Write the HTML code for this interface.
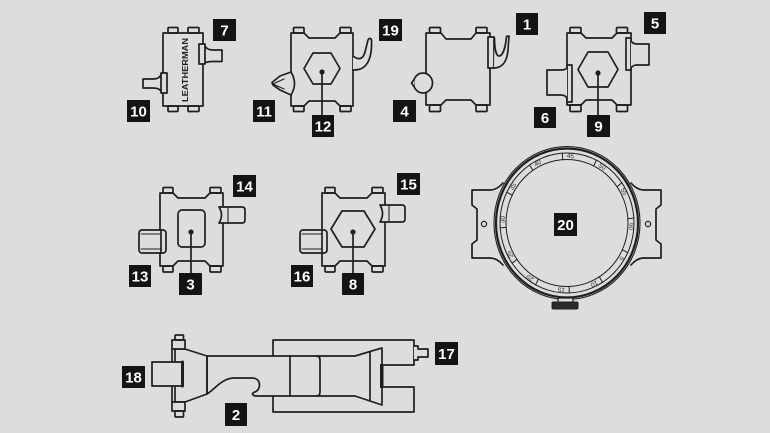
<!DOCTYPE html>
<html><head><meta charset="utf-8"><style>
html,body{margin:0;padding:0;background:#dddddd;}
svg{display:block;}
</style></head><body>
<svg width="770" height="433" viewBox="0 0 770 433" xmlns="http://www.w3.org/2000/svg">
<rect width="770" height="433" fill="#dddddd"/>
<g fill="none" stroke="#1f1f1f" stroke-width="1.7" stroke-linejoin="round" stroke-linecap="round">

<!-- Leatherman piece (7,10) -->
<rect x="163" y="33" width="40" height="73"/>
<rect x="168" y="27.5" width="10" height="5.5" rx="1"/>
<rect x="188" y="27.5" width="11" height="5.5" rx="1"/>
<rect x="168" y="106" width="10" height="5.5" rx="1"/>
<rect x="188" y="106" width="11" height="5.5" rx="1"/>
<rect x="199" y="44" width="6" height="20" fill="#dddddd"/>
<path d="M205,46 Q207,50 213,50 H222 V61.5 H213 Q207,61.5 205,63"/>
<rect x="161" y="73" width="6" height="20" fill="#dddddd"/>
<path d="M161,75 Q159,79 153,79 H143 V88 H153 Q159,88 161,91"/>

<!-- Piece 11/12/19 -->
<path d="M291,33 H304 L309,38 H335 L340,33 H353 V106 H340 L335,101 H309 L304,106 H291 Z"/>
<rect x="293.5" y="27.5" width="10.5" height="5.5" rx="1"/>
<rect x="340" y="27.5" width="11" height="5.5" rx="1"/>
<rect x="293.5" y="106" width="10.5" height="5.5" rx="1"/>
<rect x="340" y="106" width="11" height="5.5" rx="1"/>
<polygon points="304,68.5 313,53 331,53 340,68.5 331,84 313,84"/>
<line x1="322" y1="72" x2="322" y2="115"/>
<circle cx="322" cy="72" r="2.6" fill="#1f1f1f" stroke="none"/>
<path d="M291,72 L280,76 L272,82.5 L273,85 L280,90 L291,95 Q298,83.5 291,72 Z" fill="#dddddd"/>
<path d="M274,83.5 L284,79 M274,84.5 L284,89" stroke-width="1.1"/>
<path d="M353,56 C358,60 363,60 365,52 L368,40 C369,38 371,38 371.5,40 C372,52 370,62 364,67 C360,70 356,70 353,70" fill="#dddddd"/>

<!-- Piece 1/4 -->
<path d="M426,33 H441 L446,39 H471 L476,33 H490 V105 H476 L471,100 H446 L441,105 H426 Z"/>
<rect x="429.5" y="27.5" width="11" height="5.5" rx="1"/>
<rect x="476" y="27.5" width="11" height="5.5" rx="1"/>
<rect x="429.5" y="105" width="11" height="6.5" rx="1"/>
<rect x="476" y="105" width="11" height="6.5" rx="1"/>
<rect x="488" y="37" width="6" height="31" fill="#dddddd"/>
<path d="M494,68 C502,68 507,62 508,50 L509,36 L506.5,36.5 C505.5,47 503,56 499,56 C496,56 494.5,48 494.5,38" fill="#dddddd"/>
<ellipse cx="423" cy="83" rx="9.5" ry="10" fill="#dddddd"/>
<path d="M414,79.5 L411.5,83 L414,86.5" fill="#dddddd"/>

<!-- Piece 5/6/9 -->
<path d="M567,33 H581 L586,38 H612 L617,33 H631 V105 H617 L612,100 H586 L581,105 H567 Z"/>
<rect x="570" y="27.5" width="11" height="5.5" rx="1"/>
<rect x="616.5" y="27.5" width="11" height="5.5" rx="1"/>
<rect x="570" y="105" width="11" height="6.5" rx="1"/>
<rect x="616.5" y="105" width="11" height="6.5" rx="1"/>
<polygon points="578,69.5 588,52 608,52 618,69.5 608,87 588,87"/>
<line x1="598" y1="73" x2="598" y2="115"/>
<circle cx="598" cy="73" r="2.6" fill="#1f1f1f" stroke="none"/>
<rect x="626" y="38" width="5" height="32" fill="#dddddd"/>
<path d="M631,41 Q633,44 637,44 H649 V65 H637 Q633,65 631,68" fill="#dddddd"/>
<rect x="567" y="65" width="5" height="37" fill="#dddddd"/>
<path d="M567,68 Q565,70 561,70 H547 V95 H561 Q565,95 567,98" fill="#dddddd"/>

<!-- Piece 3 (13,14) -->
<path d="M160,193 H173 L178,198 H205 L210,193 H223 V266 H210 L205,261 H178 L173,266 H160 Z"/>
<rect x="163" y="187.5" width="10" height="5.5" rx="1"/>
<rect x="210" y="187.5" width="11" height="5.5" rx="1"/>
<rect x="163" y="266" width="10" height="6" rx="1"/>
<rect x="210" y="266" width="11" height="6" rx="1"/>
<rect x="178" y="210" width="27" height="37" rx="4"/>
<line x1="191" y1="232" x2="191" y2="273"/>
<circle cx="191" cy="232" r="2.6" fill="#1f1f1f" stroke="none"/>
<path d="M219,207 H242 Q245,207 245,210 V220 Q245,223 242,223 H219 Q224,215 219,207 Z" fill="#dddddd"/>
<line x1="228" y1="207.5" x2="228" y2="222.5" stroke-width="1.1"/>
<rect x="139" y="230" width="27" height="23" rx="3" fill="#dddddd"/>
<line x1="161" y1="230" x2="161" y2="253"/>
<path d="M141,234 H161 M141,249 H161" stroke-width="1"/>

<!-- Piece 8 (15,16) -->
<path d="M322,193 H335 L340,198 H367 L372,193 H385 V266 H372 L367,261 H340 L335,266 H322 Z"/>
<rect x="325" y="187.5" width="10" height="5.5" rx="1"/>
<rect x="372" y="187.5" width="11" height="5.5" rx="1"/>
<rect x="325" y="266" width="10" height="6" rx="1"/>
<rect x="372" y="266" width="11" height="6" rx="1"/>
<polygon points="331,229 342,211 364,211 375,229 364,247 342,247"/>
<line x1="353" y1="232" x2="353" y2="273"/>
<circle cx="353" cy="232" r="2.6" fill="#1f1f1f" stroke="none"/>
<path d="M380,205 H402 Q405,205 405,208 V219 Q405,222 402,222 H380 Q385,213.5 380,205 Z" fill="#dddddd"/>
<line x1="389" y1="205.5" x2="389" y2="221.5" stroke-width="1.1"/>
<rect x="300" y="230" width="27" height="23" rx="3" fill="#dddddd"/>
<line x1="322" y1="230" x2="322" y2="253"/>
<path d="M302,234 H322 M302,249 H322" stroke-width="1"/>

<!-- Ring (20) -->
<path d="M503,183 Q497,190 490,190 H472 V205 L477,209 V240 L472,244 V258 H490 Q497,258 503,265" fill="#dddddd"/>
<path d="M631,183 Q637,190 644,190 H661 V205 L656,209 V240 L661,244 V258 H644 Q637,258 631,265" fill="#dddddd"/>
<circle cx="484" cy="224" r="2.6" stroke-width="1.2"/>
<circle cx="648" cy="224" r="2.6" stroke-width="1.2"/>
<ellipse cx="567" cy="223" rx="73" ry="76.5" stroke-width="1.1" fill="#dddddd"/>
<ellipse cx="567" cy="223" rx="71" ry="74.5" stroke-width="2.2"/>
<ellipse cx="567" cy="223" rx="67" ry="70" stroke-width="1"/>
<ellipse cx="567" cy="223" rx="61" ry="63.5" stroke-width="1"/>
<g stroke-width="1">
<line x1="562.7" y1="159.7" x2="562.3" y2="153.2"/>
<line x1="593.7" y1="165.9" x2="596.4" y2="160.1"/>
<line x1="617.0" y1="186.6" x2="621.9" y2="182.8"/>
<line x1="627.9" y1="218.6" x2="633.8" y2="218.1"/>
<line x1="622.3" y1="249.8" x2="627.7" y2="252.6"/>
<line x1="599.3" y1="276.8" x2="602.5" y2="282.4"/>
<line x1="569.1" y1="286.5" x2="569.3" y2="293.0"/>
<line x1="538.4" y1="279.1" x2="535.5" y2="284.8"/>
<line x1="517.0" y1="259.4" x2="512.1" y2="263.2"/>
<line x1="506.1" y1="227.4" x2="500.2" y2="227.9"/>
<line x1="512.2" y1="195.2" x2="506.8" y2="192.3"/>
<line x1="532.9" y1="170.4" x2="529.5" y2="165.0"/>
</g>
<path d="M558,302 V298 H573 V302" fill="#dddddd" stroke-width="1.2"/>
<rect x="552" y="302" width="26" height="7" rx="1.5" fill="#2a2a2a" stroke-width="1"/>

<!-- Part 2 (17,18) -->
<path d="M273,356 V340 H414 V365 H383"/>
<path d="M273,396 V412 H414 V387 H383"/>
<rect x="380" y="364" width="3.5" height="24" fill="#1f1f1f" stroke="none"/>
<path d="M414,346 H418 V349 H428 V357 H418 V360 H414" fill="#dddddd"/>
<path d="M207,356 H355 L382,348 V405 L355,396 H257 C252,396 251,393 255,392 C261,390 262,378 252,378 H234 C222,378 214,390 207,394 Z"/>
<path d="M290,356 V396 M316,356 Q320,356 320,360 V392 Q320,396 316,396"/>
<line x1="370" y1="352" x2="370" y2="400"/>
<path d="M175,349 H185 L207,356 V394 L185,402 H175"/>
<rect x="172" y="340" width="13" height="9" fill="#dddddd"/>
<rect x="172" y="402" width="13" height="9" fill="#dddddd"/>
<line x1="172" y1="349" x2="172" y2="402"/>
<line x1="175" y1="349" x2="175" y2="402"/>
<rect x="175" y="335" width="8.5" height="5" rx="1"/>
<rect x="175" y="411" width="8.5" height="6" rx="1"/>
<rect x="152" y="362" width="31" height="24" fill="#dddddd"/>
<line x1="182.5" y1="362" x2="182.5" y2="386" stroke-width="3"/>
</g>

<text transform="translate(188,70) rotate(-90)" font-family="'Liberation Sans', sans-serif" font-size="8.5" font-weight="bold" text-anchor="middle" textLength="64" lengthAdjust="spacingAndGlyphs" fill="#222">LEATHERMAN</text>

<g font-family="'Liberation Sans', sans-serif" font-size="6.5" fill="#333" text-anchor="middle" dominant-baseline="central">
<text transform="translate(570.3,156.6) rotate(3)">45</text>
<text transform="translate(601.9,167.2) rotate(33)">50</text>
<text transform="translate(623.5,191.8) rotate(62)">55</text>
<text transform="translate(630.9,226.5) rotate(93)">60</text>
<text transform="translate(621.3,258.2) rotate(122)">5</text>
<text transform="translate(594.0,283.3) rotate(155)">10</text>
<text transform="translate(561.4,289.2) rotate(185)">15</text>
<text transform="translate(530.3,277.5) rotate(215)">20</text>
<text transform="translate(510.5,254.2) rotate(242)">25</text>
<text transform="translate(503.1,219.5) rotate(-87)">30</text>
<text transform="translate(513.3,186.8) rotate(-57)">35</text>
<text transform="translate(538.0,163.7) rotate(-27)">40</text>
</g>

<!-- Labels -->
<g fill="#141414">
<rect x="213" y="19" width="23" height="22"/>
<rect x="127" y="100" width="23" height="22"/>
<rect x="253" y="100" width="22" height="22"/>
<rect x="312" y="115" width="22" height="22"/>
<rect x="379" y="19" width="23" height="22"/>
<rect x="516" y="13" width="22" height="22"/>
<rect x="393" y="100" width="23" height="22"/>
<rect x="644" y="12" width="22" height="22"/>
<rect x="534" y="107" width="22" height="21"/>
<rect x="587" y="115" width="23" height="22"/>
<rect x="233" y="175" width="23" height="22"/>
<rect x="129" y="265" width="22" height="22"/>
<rect x="179" y="273" width="23" height="22"/>
<rect x="397" y="173" width="23" height="22"/>
<rect x="291" y="265" width="22" height="22"/>
<rect x="342" y="273" width="22" height="22"/>
<rect x="554" y="213" width="23" height="23"/>
<rect x="122" y="366" width="23" height="22"/>
<rect x="225" y="403" width="22" height="23"/>
<rect x="435" y="342" width="23" height="23"/>
</g>
<g font-family="'Liberation Sans', sans-serif" font-size="15" font-weight="bold" fill="#ffffff" text-anchor="middle">
<text x="224.5" y="35.5">7</text>
<text x="138.5" y="116.5">10</text>
<text x="264" y="116.5">11</text>
<text x="323" y="131.5">12</text>
<text x="390.5" y="35.5">19</text>
<text x="527" y="29.5">1</text>
<text x="404.5" y="116.5">4</text>
<text x="655" y="28.5">5</text>
<text x="545" y="123">6</text>
<text x="598.5" y="131.5">9</text>
<text x="244.5" y="191.5">14</text>
<text x="140" y="281.5">13</text>
<text x="190.5" y="289.5">3</text>
<text x="408.5" y="189.5">15</text>
<text x="302" y="281.5">16</text>
<text x="353" y="289.5">8</text>
<text x="565.5" y="230">20</text>
<text x="133.5" y="382.5">18</text>
<text x="236" y="420">2</text>
<text x="446.5" y="359">17</text>
</g>
</svg>
</body></html>
